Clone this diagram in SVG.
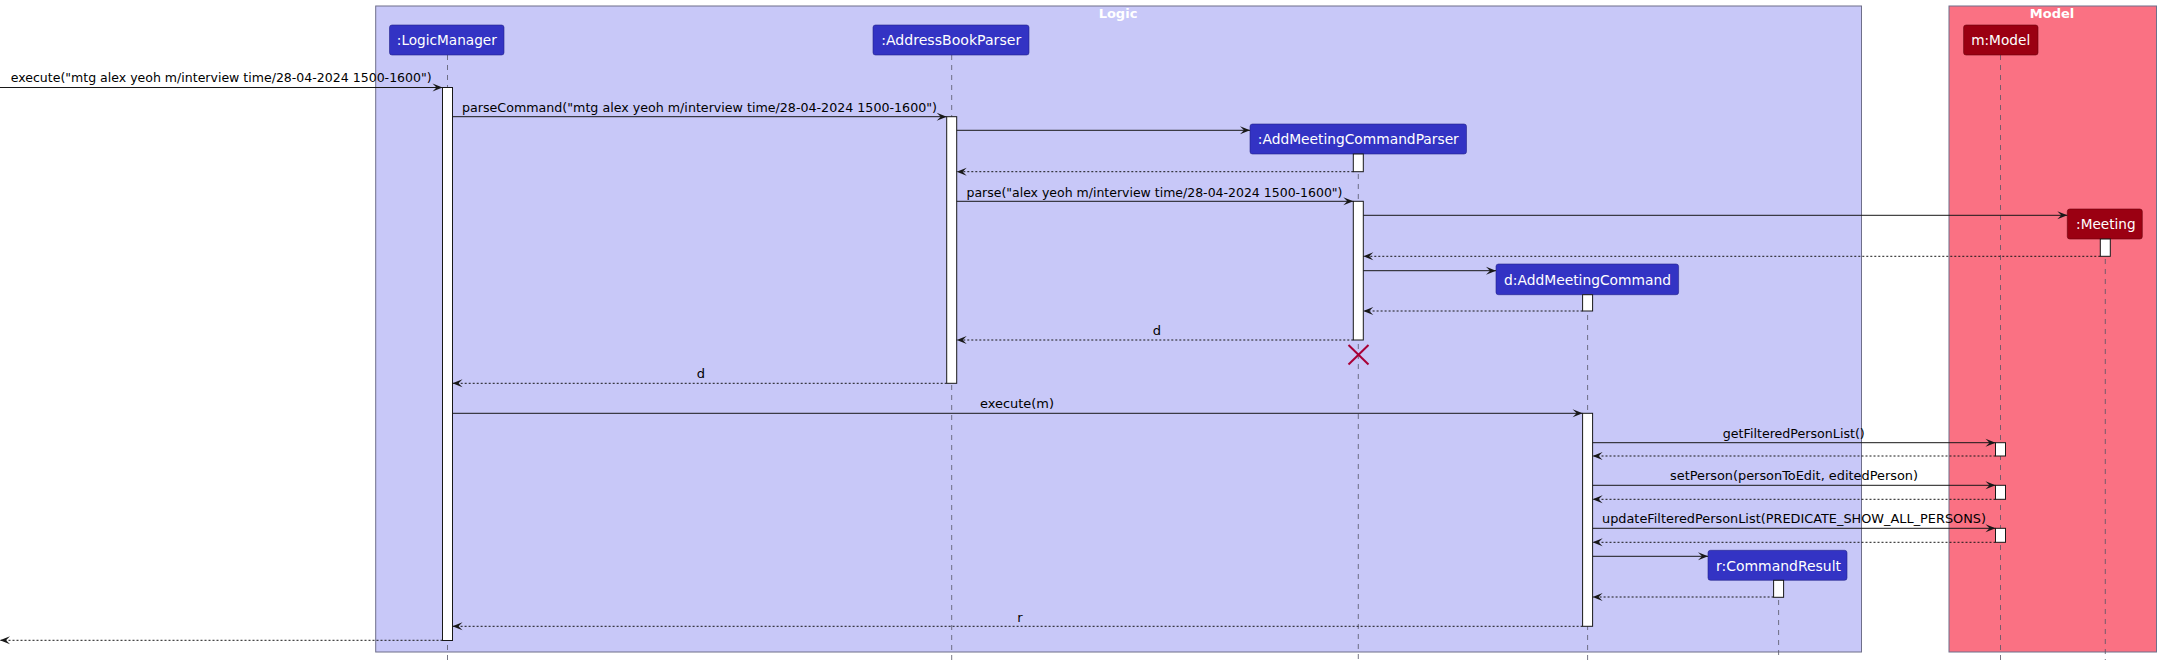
<svg xmlns="http://www.w3.org/2000/svg" width="2161" height="664" viewBox="0 0 2161 664">
<style>
.frame{stroke:#6f6f8a;stroke-width:1}
.ftitle{font-family:"DejaVu Sans",sans-serif;font-size:13px;font-weight:bold;fill:#ffffff;text-anchor:middle}
.pl{fill:#3333C4;stroke:#22228a;stroke-width:0.6}
.pm{fill:#9B0012;stroke:#6a000c;stroke-width:0.6}
.ptxt{font-family:"DejaVu Sans",sans-serif;font-size:14px;fill:#ffffff;text-anchor:middle}
.life{stroke:#555566;stroke-width:0.8;stroke-dasharray:5,5;fill:none}
.act{fill:#ffffff;stroke:#181818;stroke-width:1}
.msg{stroke:#181818;stroke-width:1;fill:none;marker-end:url(#ah)}
.ret{stroke:#181818;stroke-width:1;fill:none;stroke-dasharray:2,2;marker-end:url(#ah)}
.mtxt{font-family:"DejaVu Sans",sans-serif;font-size:13px;fill:#000000}
</style>
<defs>
<marker id="ah" markerUnits="userSpaceOnUse" markerWidth="12" markerHeight="10" refX="10" refY="4" orient="auto" overflow="visible">
<path d="M0,0 L10,4 L0,8 L4,4 Z" fill="#181818"/>
</marker>
</defs>
<rect width="2161" height="664" fill="#ffffff"/>
<g id="frame-logic">
<rect class="frame" x="375.7" y="6" width="1485.8" height="646" fill="#C8C8F8"/>
<text class="ftitle" x="1118" y="18">Logic</text>
</g>
<g id="frame-model">
<rect class="frame" x="1949" y="6" width="207.5" height="646" fill="#FA7183"/>
<text class="ftitle" x="2052" y="18">Model</text>
</g>
<g id="lifelines">
<line class="life" x1="447.5" y1="55" x2="447.5" y2="660"/>
<line class="life" x1="951.7" y1="55" x2="951.7" y2="660"/>
<line class="life" x1="1358.3" y1="154" x2="1358.3" y2="660"/>
<line class="life" x1="1587.6" y1="295" x2="1587.6" y2="660"/>
<line class="life" x1="1778.6" y1="580" x2="1778.6" y2="660"/>
<line class="life" x1="2000.5" y1="55" x2="2000.5" y2="660"/>
<line class="life" x1="2105.3" y1="239" x2="2105.3" y2="660"/>
</g>
<g id="LogicManager">
<rect class="pl" x="389.5" y="25" width="114.5" height="30" rx="2.5"/>
<text class="ptxt" x="446.8" y="45" textLength="100" lengthAdjust="spacingAndGlyphs">:LogicManager</text>
<rect class="act" x="442.5" y="87.5" width="10" height="553"/>
</g>
<g id="AddressBookParser">
<rect class="pl" x="873" y="25" width="156" height="30" rx="2.5"/>
<text class="ptxt" x="951.2" y="45" textLength="140" lengthAdjust="spacingAndGlyphs">:AddressBookParser</text>
<rect class="act" x="946.7" y="116.7" width="10" height="266.6"/>
</g>
<g id="AddMeetingCommandParser">
<rect class="pl" x="1250" y="124" width="216.5" height="30" rx="2.5"/>
<text class="ptxt" x="1358.3" y="144" textLength="201" lengthAdjust="spacingAndGlyphs">:AddMeetingCommandParser</text>
<rect class="act" x="1353.3" y="154" width="10" height="17.7"/>
<rect class="act" x="1353.3" y="201.3" width="10" height="138.7"/>
<g id="destroy" stroke="#A80036" stroke-width="2">
<line x1="1348.5" y1="345" x2="1368.5" y2="364.5"/>
<line x1="1368.5" y1="345" x2="1348.5" y2="364.5"/>
</g>
</g>
<g id="AddMeetingCommand">
<rect class="pl" x="1496" y="264" width="182.6" height="30.7" rx="2.5"/>
<text class="ptxt" x="1587.5" y="284.5" textLength="167" lengthAdjust="spacingAndGlyphs">d:AddMeetingCommand</text>
<rect class="act" x="1582.6" y="294.7" width="10" height="16.3"/>
<rect class="act" x="1582.6" y="413.3" width="10" height="213"/>
</g>
<g id="CommandResult">
<rect class="pl" x="1708" y="550.3" width="139" height="30" rx="2.5"/>
<text class="ptxt" x="1778.5" y="570.5" textLength="125" lengthAdjust="spacingAndGlyphs">r:CommandResult</text>
<rect class="act" x="1773.6" y="580.3" width="10" height="17"/>
</g>
<g id="Model">
<rect class="pm" x="1963.6" y="25" width="74.4" height="30" rx="2.5"/>
<text class="ptxt" x="2000.7" y="45" textLength="59" lengthAdjust="spacingAndGlyphs">m:Model</text>
<rect class="act" x="1995.5" y="442.7" width="10" height="13.3"/>
<rect class="act" x="1995.5" y="485.3" width="10" height="14"/>
<rect class="act" x="1995.5" y="528.3" width="10" height="14"/>
</g>
<g id="Meeting">
<rect class="pm" x="2067.3" y="209" width="75" height="30" rx="2.5"/>
<text class="ptxt" x="2105.8" y="229" textLength="59.5" lengthAdjust="spacingAndGlyphs">:Meeting</text>
<rect class="act" x="2100.3" y="239" width="10" height="17.3"/>
</g>
<g id="connectors">
<line class="msg" x1="0" y1="87.5" x2="442.5" y2="87.5"/>
<text class="mtxt" x="10.7" y="82" textLength="421" lengthAdjust="spacingAndGlyphs">execute("mtg alex yeoh m/interview time/28-04-2024 1500-1600")</text>
<line class="msg" x1="452.5" y1="116.7" x2="946.7" y2="116.7"/>
<text class="mtxt" x="462" y="112" textLength="475" lengthAdjust="spacingAndGlyphs">parseCommand("mtg alex yeoh m/interview time/28-04-2024 1500-1600")</text>
<line class="msg" x1="956.7" y1="130.3" x2="1250" y2="130.3"/>
<line class="ret" x1="1353.3" y1="171.7" x2="956.7" y2="171.7"/>
<line class="msg" x1="956.7" y1="201.3" x2="1353.3" y2="201.3"/>
<text class="mtxt" x="966.5" y="196.5" textLength="376" lengthAdjust="spacingAndGlyphs">parse("alex yeoh m/interview time/28-04-2024 1500-1600")</text>
<line class="msg" x1="1363.3" y1="215.3" x2="2067.3" y2="215.3"/>
<line class="ret" x1="2100.3" y1="256.3" x2="1363.3" y2="256.3"/>
<line class="msg" x1="1363.3" y1="270.7" x2="1496" y2="270.7"/>
<line class="ret" x1="1582.6" y1="311" x2="1363.3" y2="311"/>
<line class="ret" x1="1353.3" y1="340" x2="956.7" y2="340"/>
<text class="mtxt" x="1157" y="335" text-anchor="middle">d</text>
<line class="ret" x1="946.7" y1="383.3" x2="452.5" y2="383.3"/>
<text class="mtxt" x="701" y="378" text-anchor="middle">d</text>
<line class="msg" x1="452.5" y1="413.3" x2="1582.6" y2="413.3"/>
<text class="mtxt" x="980" y="408" textLength="74" lengthAdjust="spacingAndGlyphs">execute(m)</text>
<line class="msg" x1="1592.6" y1="442.7" x2="1995.5" y2="442.7"/>
<text class="mtxt" x="1722.8" y="437.5" textLength="142" lengthAdjust="spacingAndGlyphs">getFilteredPersonList()</text>
<line class="ret" x1="1995.5" y1="456" x2="1592.6" y2="456"/>
<line class="msg" x1="1592.6" y1="485.3" x2="1995.5" y2="485.3"/>
<text class="mtxt" x="1670" y="480" textLength="248" lengthAdjust="spacingAndGlyphs">setPerson(personToEdit, editedPerson)</text>
<line class="ret" x1="1995.5" y1="499.3" x2="1592.6" y2="499.3"/>
<line class="msg" x1="1592.6" y1="528.3" x2="1995.5" y2="528.3"/>
<text class="mtxt" x="1602" y="523" textLength="384" lengthAdjust="spacingAndGlyphs">updateFilteredPersonList(PREDICATE_SHOW_ALL_PERSONS)</text>
<line class="ret" x1="1995.5" y1="542.3" x2="1592.6" y2="542.3"/>
<line class="msg" x1="1592.6" y1="556.3" x2="1708" y2="556.3"/>
<line class="ret" x1="1773.6" y1="597" x2="1592.6" y2="597"/>
<line class="ret" x1="1582.6" y1="626.3" x2="452.5" y2="626.3"/>
<text class="mtxt" x="1020" y="621.5" text-anchor="middle">r</text>
<line class="ret" x1="442.5" y1="640.3" x2="0" y2="640.3"/>
</g>
</svg>
